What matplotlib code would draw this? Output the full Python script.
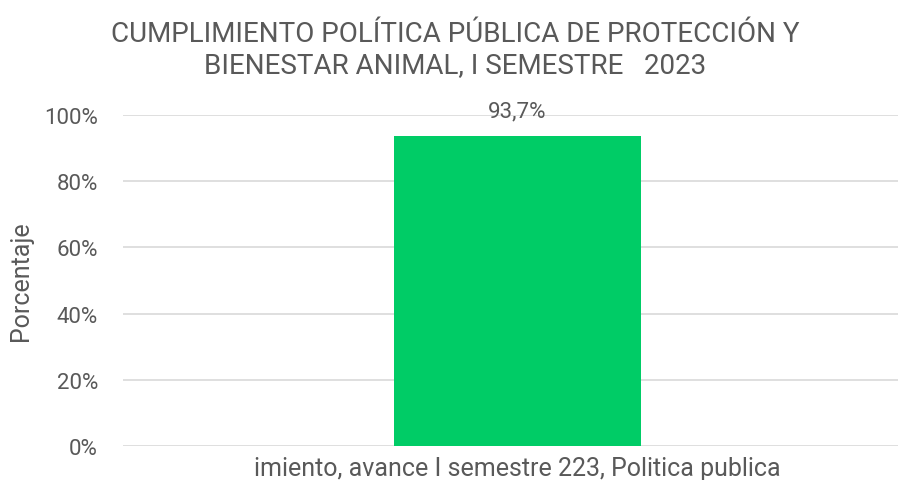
import matplotlib.pyplot as plt
from matplotlib.ticker import FuncFormatter

categorias = ["imiento, avance I semestre 223, Politica publica"]
valores = [93.7]
etiquetas = ["93,7%"]

gris = "#595959"
plt.rcParams['font.family'] = ['Roboto', 'DejaVu Sans']

fig = plt.figure(figsize=(8.98, 4.81), dpi=100)
# plot area runs past the right edge, like the original (clipped chart)
ax = fig.add_axes([123 / 898, 34 / 481, 789 / 898, 331 / 481])

x = list(range(len(categorias)))
barras = ax.bar(x, valores, width=0.313, color="#00CC66", zorder=3)
for b, t in zip(barras, etiquetas):
    ax.text(b.get_x() + b.get_width() / 2, b.get_height() + 4.5, t,
            ha="center", va="bottom", fontsize=16, color=gris)

ax.set_xlim(-0.5, 0.5)
ax.set_ylim(0, 100)
ax.set_yticks([0, 20, 40, 60, 80, 100])
ax.yaxis.set_major_formatter(FuncFormatter(lambda v, p: f"{v:.0f}%"))
ax.set_xticks(x)
ax.set_xticklabels(categorias)
ax.tick_params(axis="y", length=0, pad=18, labelsize=16, labelcolor=gris)
ax.tick_params(axis="x", length=0, pad=7, labelsize=18, labelcolor=gris)
ax.grid(axis="y", color="#D9D9D9", linewidth=1.2, zorder=0)
for s in ax.spines.values():
    s.set_visible(False)

ax.set_ylabel("Porcentaje", fontsize=18, color=gris, labelpad=8)

fig.text(455 / 898, 1 - 50 / 481,
         "CUMPLIMIENTO POLÍTICA PÚBLICA DE PROTECCIÓN Y\nBIENESTAR ANIMAL, I SEMESTRE   2023",
         ha="center", va="center", fontsize=20, color=gris, linespacing=1.2)

fig.savefig("out.png", dpi=100)
